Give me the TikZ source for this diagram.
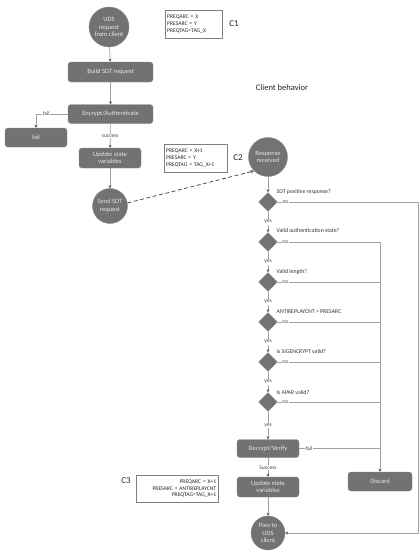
\documentclass[tikz,border=0pt]{standalone}
\usepackage{fontspec}
\setmainfont{Carlito}
\usetikzlibrary{shapes.geometric,arrows.meta}
\definecolor{boxfill}{HTML}{727272}
\definecolor{boxedge}{HTML}{8A8A8A}
\definecolor{boxtext}{HTML}{E6E6E6}
\definecolor{linecol}{HTML}{A0A0A0}
\definecolor{tipcol}{HTML}{555555}
\definecolor{dashcol}{HTML}{505050}
\definecolor{lbltext}{HTML}{404040}
\definecolor{notedge}{HTML}{808080}
\begin{document}
\begin{tikzpicture}[x=1pt,y=-1pt,
  proc/.style={draw=boxedge, fill=boxfill, rounded corners=3pt, text=boxtext,
    font=\fontsize{6.5}{7.5}\selectfont, align=center, inner sep=0pt},
  circ/.style={circle, draw=boxedge, fill=boxfill, text=boxtext,
    font=\fontsize{6.5}{7.5}\selectfont, align=center, inner sep=0pt},
  dia/.style={diamond, draw=boxedge, fill=boxfill, minimum width=19pt, minimum height=19pt, inner sep=0pt},
  note/.style={draw=notedge, fill=white, font=\fontsize{5.6}{6.8}\selectfont, text=black!85, inner sep=2pt, anchor=north west},
  lbl/.style={font=\fontsize{5.5}{6}\selectfont, text=lbltext, fill=white, inner sep=0.8pt},
  qlbl/.style={font=\fontsize{5.8}{6.5}\selectfont, text=black!80, anchor=west, inner sep=0pt},
  big/.style={font=\fontsize{9}{10}\selectfont, text=black!85},
  line/.style={draw=linecol, line width=0.7pt},
  conn/.style={line, -{Stealth[length=3pt,width=3pt,color=tipcol]}},
  dashconn/.style={draw=dashcol, line width=0.8pt, dash pattern=on 4pt off 2.5pt, -{Stealth[length=3.5pt,width=3.5pt,color=dashcol]}}]
\useasboundingbox (0,0) rectangle (420,557);

% left column
\node[circ, minimum size=40pt] (uds) at (109,27) {UDS\\request\\from client};
\node[proc, minimum width=85pt, minimum height=20pt] (build) at (110.5,72) {Build SDT request};
\node[proc, minimum width=85pt, minimum height=19pt] (enc) at (110.5,114) {Encrypt/Authenticate};
\node[proc, minimum width=62pt, minimum height=19pt] (fail) at (36,137.5) {fail};
\node[proc, minimum width=62pt, minimum height=20pt] (upd1) at (110,158) {Update state\\variables};
\node[circ, minimum size=35pt] (send) at (110,206) {Send SDT\\request};

% notes
\node[note, text width=53pt, minimum height=28pt] (c1) at (165,10) {PREQARC = X\\PRESARC = Y\\PREQTAG=TAG\_X};
\node[big] (c1l) at (234,24) {C1};
\node[font=\fontsize{8.5}{10}\selectfont, text=black!85] (title) at (282,88) {Client behavior};
\node[note, text width=59pt, minimum height=28pt] (c2) at (164,144) {PREQARC = X+1\\PRESARC = Y\\PREQTAG = TAG\_X+1};
\node[big] (c2l) at (238,158) {C2};

% right column
\node[circ, minimum size=39pt] (resp) at (268,157) {Response\\received};
\node[dia] (d1) at (268,202) {};
\node[dia] (d2) at (268,242) {};
\node[dia] (d3) at (268,282) {};
\node[dia] (d4) at (268,322) {};
\node[dia] (d5) at (268,362) {};
\node[dia] (d6) at (268,402) {};
\node[qlbl] (q1) at (276.5,192) {SDT positive response?};
\node[qlbl] (q2) at (276.5,231) {Valid authentication state?};
\node[qlbl] (q3) at (276.5,272) {Valid length?};
\node[qlbl] (q4) at (276.5,312) {ANTIREPLAYCNT > PRESARC};
\node[qlbl] (q5) at (276.5,352) {Is SIGENCRYPT valid?};
\node[qlbl] (q6) at (276.5,392.5) {Is APAR valid?};
\node[proc, minimum width=62pt, minimum height=18pt] (dec) at (268,448.5) {Decrypt/Verify};
\node[proc, minimum width=62pt, minimum height=20pt] (upd2) at (268,487) {Update state\\variables};
\node[proc, minimum width=64pt, minimum height=19pt] (discard) at (380,481.5) {Discard};
\node[circ, minimum size=34pt] (pass) at (268,533) {Pass to\\UDS\\client};
\node[note, text width=78pt, minimum height=27pt, align=right] (c3) at (136,475) {PREQARC = X+1\\PRESARC = ANTIREPLAYCNT\\PREQTAG=TAG\_X+1};
\node[big] (c3l) at (126,481) {C3};

\coordinate (r1) at (418,202);
\coordinate (r2) at (418,533);
\coordinate (i2) at (380,242);
\coordinate (i3) at (380,282);
\coordinate (i4) at (380,322);
\coordinate (i5) at (380,362);
\coordinate (i6) at (380,402);
\coordinate (idec) at (380,448.5);

% connectors left
\draw[conn] (uds) -- (build);
\draw[conn] (build) -- (enc);
\draw[conn] (enc) -- node[lbl]{success} (upd1);
\draw[conn] (enc.west) -| node[lbl, pos=0.34]{fail} (fail.north);
\draw[conn] (upd1) -- (send);
\draw[dashconn] (send.10) -- (resp.225);

% connectors right
\draw[conn] (resp) -- (d1);
\draw[conn] (d1) -- node[lbl]{yes} (d2);
\draw[conn] (d2) -- node[lbl]{yes} (d3);
\draw[conn] (d3) -- node[lbl]{yes} (d4);
\draw[conn] (d4) -- node[lbl]{yes} (d5);
\draw[conn] (d5) -- node[lbl]{yes} (d6);
\draw[conn] (d6) -- node[lbl]{yes} (dec);
\draw[conn] (dec) -- node[lbl]{Success} (upd2);
\draw[conn] (upd2) -- (pass);

\draw[conn] (d1.east) -- node[lbl, pos=0.055]{no} (r1) -- (r2) -- (pass.east);
\draw[line] (d2.east) -- node[lbl, pos=0.075]{no} (i2);
\draw[line] (d3.east) -- node[lbl, pos=0.075]{no} (i3);
\draw[line] (d4.east) -- node[lbl, pos=0.075]{no} (i4);
\draw[line] (d5.east) -- node[lbl, pos=0.075]{no} (i5);
\draw[line] (d6.east) -- node[lbl, pos=0.075]{no} (i6);
\draw[line] (dec.east) -- node[lbl, pos=0.12]{fail} (idec);
\draw[conn] (i2) -- (discard.north);
\end{tikzpicture}
\end{document}
